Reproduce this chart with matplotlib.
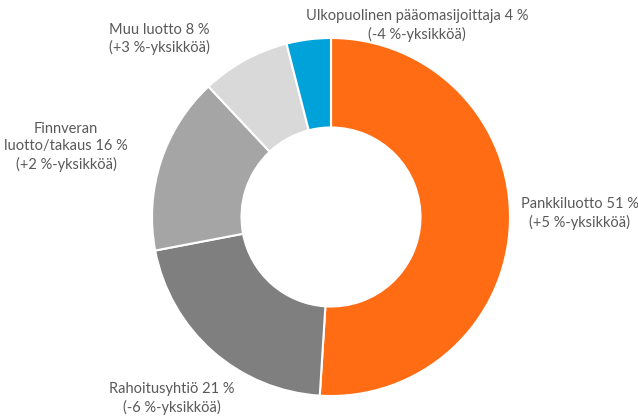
import matplotlib
matplotlib.use('Agg')
from matplotlib import pyplot as plt

# share of financing sources, %
labels = ['Pankkiluotto', 'Rahoitusyhtiö', 'Finnveran\nluotto/takaus',
          'Muu luotto', 'Ulkopuolinen pääomasijoittaja']
shares = [51, 21, 16, 8, 4]
changes = ['+5', '-6', '+2', '+3', '-4']
colors = ['#FF6C14', '#7F7F7F', '#A5A5A5', '#D9D9D9', '#00A3D9']

# label centres in pie data units (pie radius = 1)
label_pos = [(1.39, 0.02), (-0.89, -1.015), (-1.48, 0.39),
             (-0.96, 0.995), (0.48, 1.07)]

plt.rcParams['font.family'] = ['Lato', 'DejaVu Sans']

fig = plt.figure(figsize=(6.38, 4.17), dpi=100)
W, H = 638, 417
cx, cy, R = 331, 217, 179
ax = fig.add_axes([(cx - R) / W, (H - cy - R) / H, 2 * R / W, 2 * R / H])

ax.pie(shares, colors=colors, startangle=90, counterclock=False,
       radius=1, wedgeprops=dict(width=0.5, edgecolor='white', linewidth=1.5))
ax.set_xlim(-1, 1)
ax.set_ylim(-1, 1)
ax.set_aspect('equal')
ax.axis('off')

for lab, s, ch, (x, y) in zip(labels, shares, changes, label_pos):
    txt = '%s %d %%\n(%s %%-yksikköä)' % (lab, s, ch)
    ax.text(x, y, txt, ha='center', va='center', multialignment='center',
            fontsize=10.5, color='#595959', linespacing=1.3, clip_on=False)

fig.savefig('out.png', dpi=100)
